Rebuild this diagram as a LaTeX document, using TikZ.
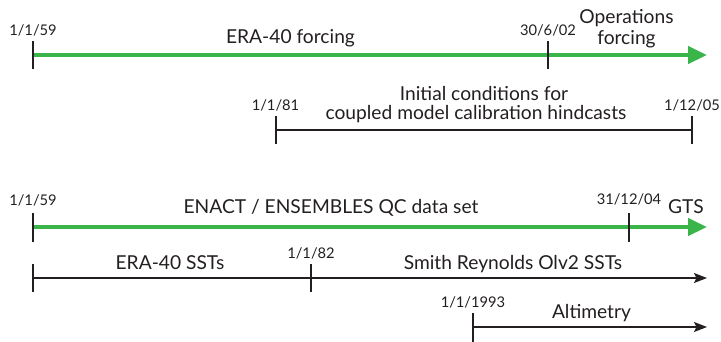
\documentclass[tikz,border=0pt]{standalone}
\usepackage{fontspec}
\setmainfont{Lato}
\usetikzlibrary{arrows.meta}
\definecolor{tlgreen}{HTML}{39B54A}
\definecolor{ink}{HTML}{231F20}
\tikzset{
  greenline/.style={draw=tlgreen, line width=4.5pt, -{Triangle[length=19pt,width=17pt]}},
  blackline/.style={draw=ink, line width=1.5pt},
  blackarrow/.style={draw=ink, line width=1.5pt, -{Stealth[length=13pt,width=10pt,inset=2.5pt]}},
  tick/.style={draw=ink, line width=1.5pt},
  biglab/.style={anchor=base, inner sep=0pt, text=ink, font=\fontsize{19.2}{21}\selectfont},
  datelab/.style={anchor=base, inner sep=0pt, text=ink, font=\fontsize{14.7}{16}\selectfont},
}
\begin{document}
\begin{tikzpicture}[x=1pt,y=-1pt]
\useasboundingbox (0,0) rectangle (721,341);
% Row 1
\coordinate (r1s) at (33,55);
\coordinate (r1m) at (548,55);
\coordinate (r1e) at (707,55);
\draw[greenline] (r1s) -- (r1e);
\draw[tick] ([yshift=-14pt]r1s) -- ([yshift=14pt]r1s);
\draw[tick] ([yshift=-14pt]r1m) -- ([yshift=14pt]r1m);
\node[datelab] (d1a) at (33,35) {1/1/59};
\node[biglab] (l1a) at (290.5,43) {ERA-40 forcing};
\node[datelab] (d1b) at (548,35) {30/6/02};
\node[biglab] (l1b) at (626.5,23) {Operations};
\node[biglab] (l1c) at (626.5,44) {forcing};
% Row 2
\coordinate (r2s) at (276,130);
\coordinate (r2e) at (692,130);
\draw[blackline] (r2s) -- (r2e);
\draw[tick] ([yshift=-14pt]r2s) -- ([yshift=14pt]r2s);
\draw[tick] ([yshift=-14pt]r2e) -- ([yshift=14pt]r2e);
\node[datelab] (d2a) at (275.5,110) {1/1/81};
\node[biglab] (l2a) at (484,100) {Initial conditions for};
\node[biglab] (l2b) at (476,119) {coupled model calibration hindcasts};
\node[datelab] (d2b) at (692,110) {1/12/05};
% Row 3
\coordinate (r3s) at (33,227);
\coordinate (r3m) at (629,227);
\coordinate (r3e) at (707,227);
\draw[greenline] (r3s) -- (r3e);
\draw[tick] ([yshift=-14.5pt]r3s) -- ([yshift=14.5pt]r3s);
\draw[tick] ([yshift=-14.5pt]r3m) -- ([yshift=14.5pt]r3m);
\node[datelab] (d3a) at (33,205) {1/1/59};
\node[biglab] (l3a) at (331,213) {ENACT / ENSEMBLES QC data set};
\node[datelab] (d3b) at (629,204) {31/12/04};
\node[biglab] (l3b) at (686,213) {GTS};
% Row 4
\coordinate (r4s) at (33,278);
\coordinate (r4m) at (311,278);
\coordinate (r4e) at (707,278);
\draw[blackarrow] (r4s) -- (r4e);
\draw[tick] ([yshift=-14pt]r4s) -- ([yshift=14pt]r4s);
\draw[tick] ([yshift=-14pt]r4m) -- ([yshift=14pt]r4m);
\node[datelab] (d4a) at (311,258) {1/1/82};
\node[biglab] (l4a) at (170,269) {ERA-40 SSTs};
\node[biglab] (l4b) at (513,269) {Smith Reynolds Olv2 SSTs};
% Row 5
\coordinate (r5s) at (473,327);
\coordinate (r5e) at (707,327);
\coordinate (r5t) at (473,313);
\coordinate (r5b) at (473,342);
\draw[blackarrow] (r5s) -- (r5e);
\draw[tick] (r5t) -- (r5b);
\node[datelab] (d5a) at (473,307) {1/1/1993};
\node[biglab] (l5a) at (591.5,318) {Altimetry};
\end{tikzpicture}
\end{document}
